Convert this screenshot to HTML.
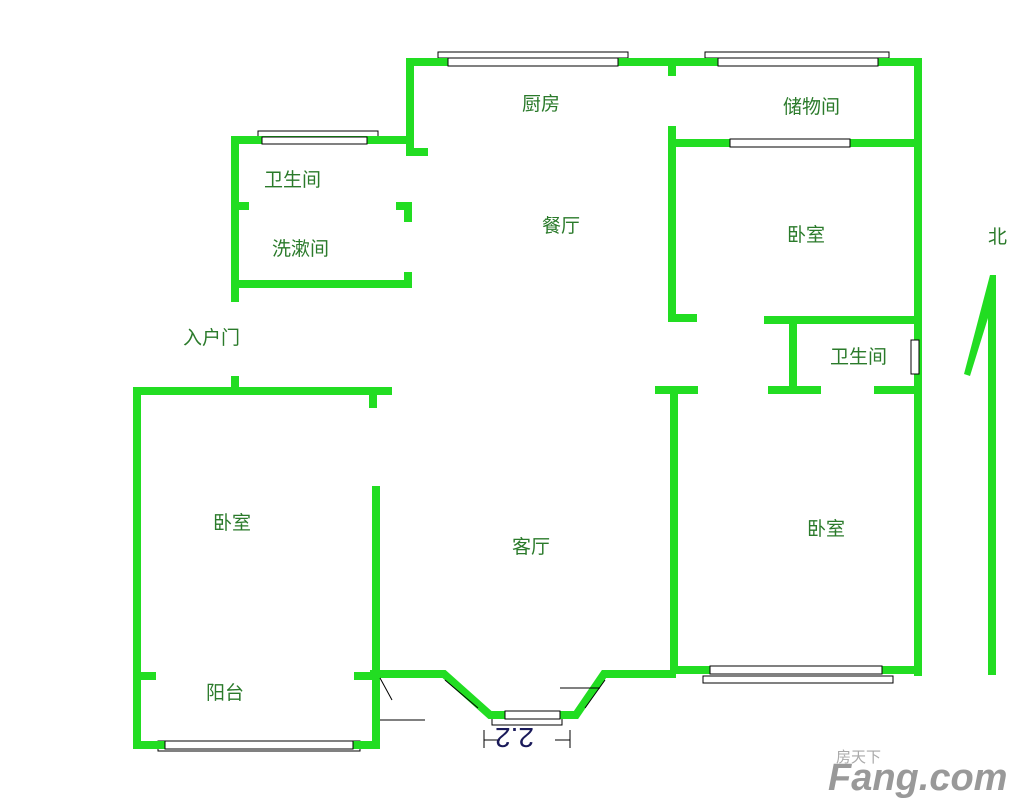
<!DOCTYPE html>
<html><head><meta charset="utf-8"><style>
body{margin:0;background:#fff;width:1026px;height:811px;overflow:hidden}
svg{display:block}
text{font-family:"Liberation Sans","Noto Sans CJK SC",sans-serif}
</style></head><body>
<svg width="1026" height="811" viewBox="0 0 1026 811">
<g fill="none" stroke="#000" stroke-width="1">
<rect x="438" y="52" width="190" height="6"/>
<rect x="705" y="52" width="184" height="6"/>
<rect x="258" y="131" width="120" height="6"/>
<rect x="703" y="676" width="190" height="7"/>
<rect x="158" y="741" width="202" height="10"/>
<rect x="492" y="715" width="70" height="10"/>
</g>
<g stroke="#22dd22" stroke-width="8" fill="none" stroke-linecap="square">
<path d="M410 62H918V672"/>
<path d="M410 62V152H424"/>
<path d="M672 62V72"/>
<path d="M235 140H410"/>
<path d="M235 140V298"/>
<path d="M235 380V391"/>
<path d="M235 206H245"/>
<path d="M400 206H408V218"/>
<path d="M235 284H408V276"/>
<path d="M137 391H388"/>
<path d="M373 391V404"/>
<path d="M137 391V745H376V490"/>
<path d="M137 676H152"/>
<path d="M358 676H374"/>
<path d="M374 674H444L490 715H576L604 674H672"/>
<path d="M672 130V318H693"/>
<path d="M672 143H918"/>
<path d="M768 320H915"/>
<path d="M793 320V389"/>
<path d="M772 390H817"/>
<path d="M878 390H915"/>
<path d="M659 390H694"/>
<path d="M674 390V670H918"/>
</g>
<g fill="#fff" stroke="#000" stroke-width="1">
<rect x="448" y="58" width="170" height="8"/>
<rect x="718" y="58" width="160" height="8"/>
<rect x="730" y="139" width="120" height="8"/>
<rect x="262" y="137" width="105" height="7"/>
<rect x="710" y="666" width="172" height="8"/>
<rect x="165" y="741" width="188" height="8"/>
<rect x="505" y="711" width="55" height="8"/>
<rect x="911" y="340" width="8" height="34"/>
</g>
<polygon points="990,275 996,275 996,675 988,675 988,318 970,376 964,374" fill="#22dd22"/>
<g fill="none" stroke="#000" stroke-width="1">
<path d="M380 678L392 700M380 720H425M484 730V748M570 730V748M484 740H500M555 740H570M560 688H600M445 680L478 708M605 680L585 708"/>
</g>
<text x="520" y="748" font-size="28" fill="#1a1a5a" transform="rotate(180 527 738)">2.2</text>
<g fill="#2a7a2a" font-size="19">
<text x="522" y="110">厨房</text>
<text x="783" y="113">储物间</text>
<text x="264" y="186">卫生间</text>
<text x="272" y="255">洗漱间</text>
<text x="542" y="232">餐厅</text>
<text x="787" y="241">卧室</text>
<text x="988" y="243">北</text>
<text x="183" y="344">入户门</text>
<text x="830" y="363">卫生间</text>
<text x="213" y="529">卧室</text>
<text x="512" y="553">客厅</text>
<text x="807" y="535">卧室</text>
<text x="206" y="699">阳台</text>
</g>
<text x="836" y="762" font-size="15" fill="#aaa">房天下</text>
<text x="828" y="790" font-size="38" font-weight="bold" font-style="italic" fill="#999">Fang.com</text>
</svg>
</body></html>
